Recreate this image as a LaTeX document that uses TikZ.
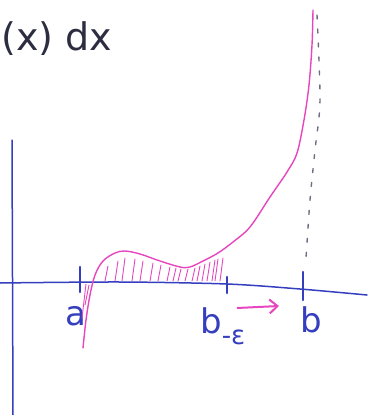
\documentclass[tikz,border=0pt]{standalone}
\usepackage{fontspec}
\setmainfont{DejaVu Sans}
\usetikzlibrary{arrows.meta}
\definecolor{penblue}{RGB}{52,62,190}
\definecolor{penpink}{RGB}{230,70,190}
\definecolor{pengray}{RGB}{45,45,65}
\definecolor{dashgray}{RGB}{110,110,130}
\tikzset{
  axis/.style={penblue, line width=1.5pt, line cap=round},
  tickmark/.style={penblue, line width=2.6pt, line cap=round},
  curve/.style={penpink, line width=1.4pt, line cap=round, line join=round},
  hatch/.style={penpink, line width=0.9pt, line cap=round},
  lbl/.style={penblue, font=\fontsize{34}{34}\selectfont, inner sep=0pt},
  title/.style={pengray, font=\fontsize{38}{38}\selectfont, inner sep=0pt},
  asym/.style={dashgray, line width=1.4pt, dash pattern=on 4pt off 10pt, line cap=round}
}
\begin{document}
\begin{tikzpicture}[x=1pt,y=-1pt]
\useasboundingbox (0,0) rectangle (367,415);
% title text
\node[title, anchor=base west] (ttl) at (1,50) {(x) dx};
% axes
\draw[axis] (12,140) -- (13,415);
\draw[axis] plot[smooth] coordinates {(0,283) (120,282) (227,284) (300,289) (367,295)};
% ticks
\coordinate (ta1) at (80,267); \coordinate (ta2) at (80,292);
\coordinate (te1) at (227,277); \coordinate (te2) at (227,293);
\coordinate (tb1) at (303,272); \coordinate (tb2) at (303,300);
\draw[tickmark] (ta1) -- (ta2);
\draw[tickmark] (te1) -- (te2);
\draw[tickmark] (tb1) -- (tb2);
% labels
\node[lbl] (la) at (76,316) {a};
\node[lbl, anchor=base west] (lbe) at (200,333) {b\raisebox{-0.35em}{\fontsize{26}{26}\selectfont -ε}};
\node[lbl] (lb) at (311,320) {b};
% asymptote
\draw[asym] plot[smooth] coordinates {(317,15) (320,100) (315,150) (310,200) (306,258)};
% hatching
\foreach \x/\yt in {105/266,115/261,122/258,132/259,140/261,150/263,158/265,167/267,173/268,178/269,185/269,192/268,197/266,202/264,207/262,212/260,215/259,220/258}
  \draw[hatch] (\x,281) -- (\x+3,\yt);
\draw[hatch] (86,284) -- (82,318);
\draw[hatch] (89,285) -- (85,305);
% curve
\draw[curve] plot[smooth, tension=0.55] coordinates {(83,348) (86,320) (90,295) (95,275) (103,261) (115,253) (125,251) (140,254) (160,261) (180,267) (190,267) (203,261) (218,253) (233,242) (250,227) (270,197) (287,172) (297,153) (304,120) (309,85) (312,45) (313,10)};
% arrow
\coordinate (ar1) at (237,308); \coordinate (ar2) at (279,306);
\draw[penpink, line width=2pt, -{Straight Barb[length=8pt,width=14pt]}] (ar1) -- (ar2);
\end{tikzpicture}
\end{document}
